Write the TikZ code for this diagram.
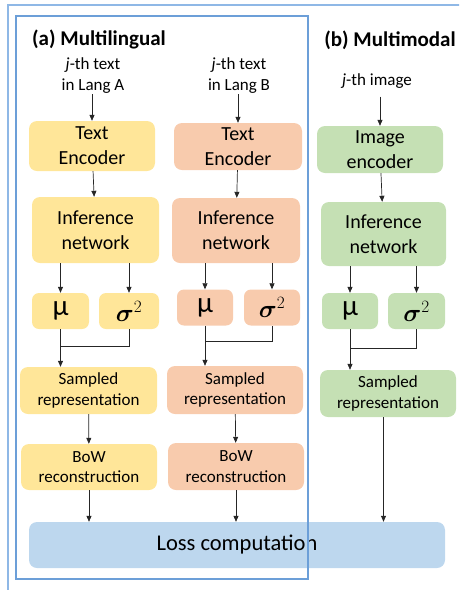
\documentclass[tikz,border=0pt]{standalone}
\usepackage{bm}
\usepackage{fontspec}
\setmainfont{Carlito}
\usetikzlibrary{arrows.meta}
\definecolor{gold}{HTML}{FFE699}
\definecolor{peach}{HTML}{F8CBAD}
\definecolor{sage}{HTML}{C5E0B4}
\definecolor{sky}{HTML}{BDD7EE}
\definecolor{frameout}{HTML}{8FB8E6}
\definecolor{framein}{HTML}{6C9FD8}
\begin{document}
\begin{tikzpicture}[x=1pt,y=1pt]
	\tikzstyle{every node}+=[inner sep=0pt]
	\tikzstyle{box}=[rounded corners=8pt, align=center, font=\fontsize{20}{25}\selectfont]
	\tikzstyle{smallbox}=[box, font=\fontsize{17}{20.5}\selectfont]
	\tikzstyle{varbox}=[rounded corners=7pt, minimum height=36pt]
	\tikzstyle{intext}=[align=center, font=\fontsize{17}{21}\selectfont]
	\tikzstyle{title}=[font=\fontsize{21}{24}\selectfont\bfseries]
	\tikzstyle{arr}=[-{Triangle[length=6pt,width=5pt]}, line width=0.7pt, black!85]
	\tikzstyle{link}=[line width=0.7pt, black!85]
	\clip (0,0) rectangle (459,-590);
	\draw [frameout, line width=1.6pt] (8,-5) rectangle (470,-600);
	% titles and inputs
	\node [title] (titleA) at (99,-39) {(a) Multilingual};
	\node [title] (titleB) at (390,-40) {(b) Multimodal};
	\node [intext] (inA) at (93,-76) {\textit{j}-th text\\in Lang A};
	\node [intext] (inB) at (239,-76) {\textit{j}-th text\\in Lang B};
	\node [intext] (inC) at (377,-81) {\textit{j}-th image};
	% column a
	\node [box, fill=gold, minimum width=126pt, minimum height=50pt] (encA) at (92,-146) {Text\\Encoder};
	\node [box, fill=gold, minimum width=127pt, minimum height=66pt] (infA) at (95.5,-230) {Inference\\network};
	\node [varbox, fill=gold, minimum width=57pt] (muA) at (60.5,-311) {\fontsize{29}{29}\selectfont µ};
	\node [varbox, fill=gold, minimum width=60pt] (sigA) at (129,-311) {\fontsize{26}{26}\selectfont$\bm{\sigma}^2$};
	\node [smallbox, fill=gold, minimum width=137pt, minimum height=47pt] (sampA) at (88.5,-390.5) {Sampled\\representation};
	\node [smallbox, fill=gold, minimum width=136pt, minimum height=46pt] (bowA) at (89,-467) {BoW\\reconstruction};
	% column b
	\node [box, fill=peach, minimum width=128pt, minimum height=47pt] (encB) at (238,-146.5) {Text\\Encoder};
	\node [box, fill=peach, minimum width=128pt, minimum height=65pt] (infB) at (236,-230.5) {Inference\\network};
	\node [varbox, fill=peach, minimum width=56pt] (muB) at (205,-307.5) {\fontsize{29}{29}\selectfont µ};
	\node [varbox, fill=peach, minimum width=56pt] (sigB) at (272,-307.5) {\fontsize{26}{26}\selectfont$\bm{\sigma}^2$};
	\node [smallbox, fill=peach, minimum width=136pt, minimum height=48pt] (sampB) at (235,-390) {Sampled\\representation};
	\node [smallbox, fill=peach, minimum width=136pt, minimum height=47pt] (bowB) at (236,-466.5) {BoW\\reconstruction};
	% column c
	\node [box, fill=sage, minimum width=126pt, minimum height=47pt] (encC) at (380,-149.5) {Image\\encoder};
	\node [box, fill=sage, minimum width=125pt, minimum height=64pt] (infC) at (383.5,-234) {Inference\\network};
	\node [varbox, fill=sage, minimum width=56pt] (muC) at (350,-311) {\fontsize{29}{29}\selectfont µ};
	\node [varbox, fill=sage, minimum width=57pt] (sigC) at (416.5,-311) {\fontsize{26}{26}\selectfont$\bm{\sigma}^2$};
	\node [smallbox, fill=sage, minimum width=136pt, minimum height=47pt] (sampC) at (388,-393.5) {Sampled\\representation};
	\node [box, fill=sky, minimum width=416pt, minimum height=46pt, font=\fontsize{22.5}{26}\selectfont] (loss) at (237,-545) {Loss computation};
	% connectors
	\draw [arr] (inA.south -| encA) -- (encA.north);
	\draw [arr] (encA) -- (infA);
	\draw [arr] (infA.south -| muA) -- (muA.north);
	\draw [arr] (infA.south -| sigA) -- (sigA.north);
	\draw [link] (muA.south) -- ++(0,-17) coordinate (jA) -| (sigA.south);
	\draw [arr] (jA) -- (sampA.north -| jA);
	\draw [arr] (sampA) -- (bowA);
	\draw [arr] (bowA.south) -- (bowA.south |- loss.north);
	\draw [arr] (inB.south -| encB) -- (encB.north);
	\draw [arr] (encB) -- (infB);
	\draw [arr] (infB.south -| muB) -- (muB.north);
	\draw [arr] (infB.south -| sigB) -- (sigB.north);
	\draw [link] (muB.south) -- ++(0,-16) coordinate (jB) -| (sigB.south);
	\draw [arr] (jB) -- (sampB.north -| jB);
	\draw [arr] (sampB) -- (bowB);
	\draw [arr] (bowB.south) -- (bowB.south |- loss.north);
	\draw [arr, shorten <=8pt] (inC.south -| encC) -- (encC.north);
	\draw [arr] (encC) -- (infC);
	\draw [arr] (infC.south -| muC) -- (muC.north);
	\draw [arr] (infC.south -| sigC) -- (sigC.north);
	\draw [link] (muC.south) -- ++(0,-19) coordinate (jC) -| (sigC.south);
	\draw [arr] (jC) -- (sampC.north -| jC);
	\draw [arr] (sampC.south -| infC) -- (loss.north -| infC);
	\draw [framein, line width=1.1pt] (16,-16) rectangle (308,-579);
\end{tikzpicture}
\end{document}
